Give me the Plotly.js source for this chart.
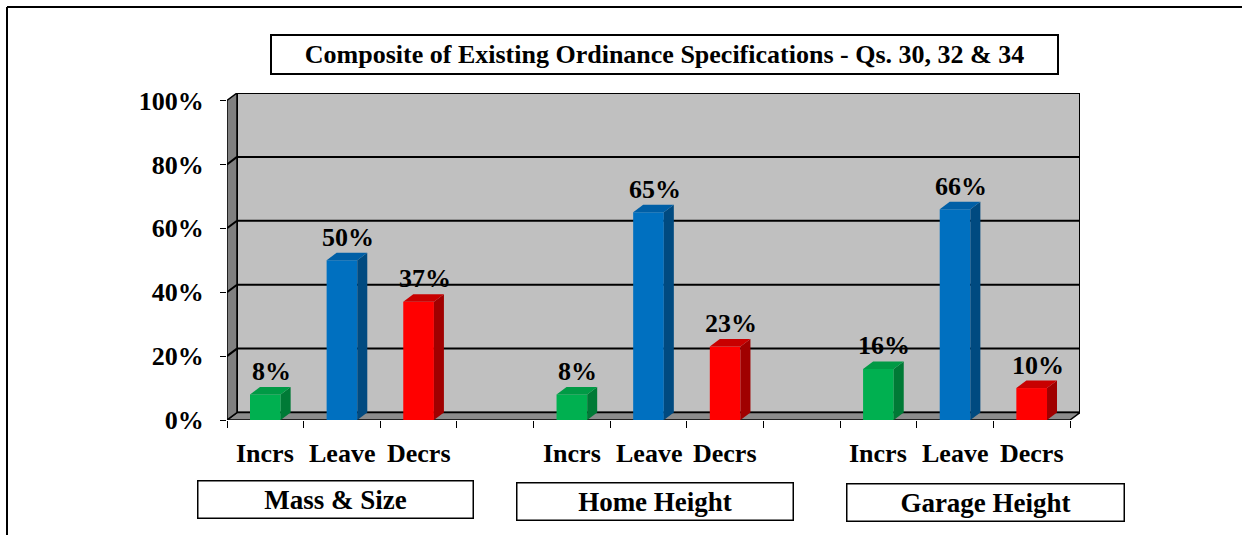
<!DOCTYPE html>
<html>
<head>
<meta charset="utf-8">
<script src="https://cdn.plot.ly/plotly-3.0.1.min.js"></script>
<style>html,body{margin:0;padding:0;background:#fff;}#chart{width:1242px;height:535px;}</style>
</head>
<body>
<div id="chart"></div>
<script>
// ---- data ----
const chartTitle = "Composite of Existing Ordinance Specifications - Qs. 30, 32 & 34";
const categories = ["Incrs", "Leave", "Decrs"];
const groups = ["Mass & Size", "Home Height", "Garage Height"];
const incrsValues = [8, 8, 16];
const leaveValues = [50, 65, 66];
const decrsValues = [37, 23, 10];
const yTickValues = [0, 20, 40, 60, 80, 100];

// ---- style / geometry ----
const W = 1242, H = 535;
const L = 227, R = 1080, T = 93, B = 420;
const NSLOT = 11;
const depthPx = 10, depthPy = 7.5;
const pxPerY = (B - T - depthPy) / 100;
const DY = depthPy / pxPerY;
const pxPerX = (R - L - depthPx) / NSLOT;
const DX = depthPx / pxPerX;
const HALF = 0.2;
const FONT = "Liberation Serif, Times New Roman, serif";
const FS = 26;
const seriesColors = [
  {front: "#00B050", side: "#007A36", top: "#009A45"},
  {front: "#0070C0", side: "#004A80", top: "#005FA6"},
  {front: "#FF0000", side: "#A00000", top: "#C80000"}
];
const seriesValues = [incrsValues, leaveValues, decrsValues];

function px(xp) { return (xp - L) / (R - L); }
function py(yp) { return (B - yp) / (B - T); }

const traces = [];
const annotations = [];

seriesValues.forEach((vals, s) => {
  const xs = vals.map((v, g) => g * 4 + s + 0.5);
  traces.push({
    type: "bar", x: xs, y: vals, width: HALF * 2,
    marker: {color: seriesColors[s].front, line: {width: 0}},
    hoverinfo: "skip", showlegend: false
  });
  vals.forEach((v, g) => {
    const c = g * 4 + s + 0.5;
    traces.push({
      type: "scatter", mode: "lines", fill: "toself",
      x: [c + HALF, c + HALF + DX, c + HALF + DX, c + HALF, c + HALF],
      y: [0, DY, v + DY, v, 0],
      fillcolor: seriesColors[s].side, line: {width: 0, color: seriesColors[s].side},
      hoverinfo: "skip", showlegend: false
    });
    traces.push({
      type: "scatter", mode: "lines", fill: "toself",
      x: [c - HALF, c + HALF, c + HALF + DX, c - HALF + DX, c - HALF],
      y: [v, v, v + DY, v + DY, v],
      fillcolor: seriesColors[s].top, line: {width: 0, color: seriesColors[s].top},
      hoverinfo: "skip", showlegend: false
    });
    annotations.push({
      x: c + DX * 0.6, y: v + DY, xref: "x", yref: "y",
      text: "<b>" + v + "%</b>", showarrow: false,
      yanchor: "bottom", yshift: -1,
      font: {family: FONT, size: FS, color: "#000"}
    });
  });
});

groups.forEach((gname, g) => {
  categories.forEach((cat, s) => {
    annotations.push({
      x: g * 4 + s + 0.5, y: py(453), xref: "x", yref: "paper",
      text: "<b>" + cat + "</b>", showarrow: false, yanchor: "middle",
      font: {family: FONT, size: FS, color: "#000"}
    });
  });
});

const groupBoxes = [
  {cx: 335, cy: 499.5, w: 276, h: 38},
  {cx: 654.5, cy: 501.5, w: 277, h: 38},
  {cx: 985, cy: 503, w: 278, h: 38}
];
groups.forEach((gname, g) => {
  const b = groupBoxes[g];
  annotations.push({
    x: px(b.cx), y: py(b.cy), xref: "paper", yref: "paper",
    text: "<b>" + gname + "</b>", showarrow: false,
    xanchor: "center", yanchor: "middle",
    width: b.w - 2, height: b.h - 2, borderpad: 0,
    bordercolor: "#000", borderwidth: 1.5, bgcolor: "#fff",
    font: {family: FONT, size: 27, color: "#000"}
  });
});

annotations.push({
  x: px(664), y: py(55), xref: "paper", yref: "paper",
  text: "<b>" + chartTitle + "</b>", showarrow: false,
  xanchor: "center", yanchor: "middle",
  width: 785, height: 37, borderpad: 0,
  bordercolor: "#000", borderwidth: 2, bgcolor: "#fff",
  font: {family: FONT, size: FS, color: "#000"}
});

const shapes = [];
shapes.push({type: "rect", layer: "below", xref: "x", yref: "y",
  x0: DX, x1: NSLOT + DX, y0: DY, y1: 100 + DY,
  fillcolor: "#C0C0C0", line: {color: "#000", width: 2}});
shapes.push({type: "path", layer: "below", xref: "x", yref: "y",
  path: `M0,0 L${NSLOT},0 L${NSLOT + DX},${DY} L${DX},${DY} Z`,
  fillcolor: "#8C8C8C", line: {color: "#000", width: 1.5}});
shapes.push({type: "path", layer: "below", xref: "x", yref: "y",
  path: `M0,0 L${DX},${DY} L${DX},${100 + DY} L0,100 Z`,
  fillcolor: "#808080", line: {color: "#000", width: 1.5}});
yTickValues.forEach(v => {
  if (v === 0 || v === 100) return;
  shapes.push({type: "line", layer: "below", xref: "x", yref: "y",
    x0: DX, x1: NSLOT + DX, y0: v + DY, y1: v + DY, line: {color: "#000", width: 2}});
  shapes.push({type: "line", layer: "below", xref: "x", yref: "y",
    x0: 0, x1: DX, y0: v, y1: v + DY, line: {color: "#000", width: 2}});
});
shapes.push({type: "line", xref: "paper", yref: "paper",
  x0: px(7), x1: px(1242), y0: py(7), y1: py(7), line: {color: "#000", width: 2}});
shapes.push({type: "line", xref: "paper", yref: "paper",
  x0: px(7), x1: px(7), y0: py(7), y1: py(535), line: {color: "#000", width: 2}});

const slotBounds = [];
for (let i = 0; i <= NSLOT; i++) slotBounds.push(i);

const layout = {
  width: W, height: H,
  margin: {l: L, r: W - R, t: T, b: H - B, pad: 0},
  paper_bgcolor: "#fff", plot_bgcolor: "rgba(0,0,0,0)",
  showlegend: false, barmode: "overlay",
  xaxis: {range: [0, NSLOT + DX], tickvals: slotBounds, showticklabels: false,
    ticks: "outside", ticklen: 7, tickwidth: 1, tickcolor: "#000",
    showgrid: false, zeroline: false, showline: false, fixedrange: true},
  yaxis: {range: [0, 100 + DY], tickvals: yTickValues,
    ticktext: yTickValues.map(v => v + "%"),
    ticks: "outside", ticklen: 6, tickwidth: 1, tickcolor: "#000",
    ticklabelstandoff: 11,
    tickfont: {family: FONT, size: FS, color: "#000", weight: "bold"},
    showgrid: false, zeroline: false, showline: false, fixedrange: true},
  shapes: shapes, annotations: annotations
};

Plotly.newPlot("chart", traces, layout, {staticPlot: true, displayModeBar: false});
</script>
</body>
</html>
